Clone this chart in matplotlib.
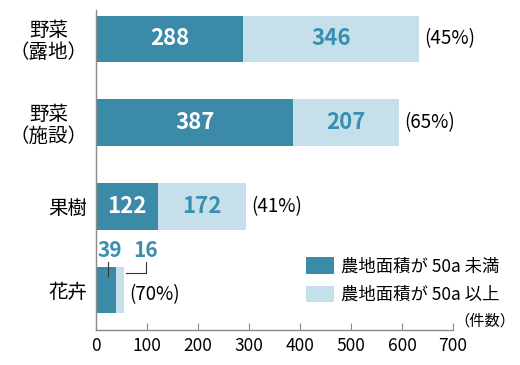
import matplotlib
matplotlib.use("Agg")
import matplotlib.pyplot as plt

plt.rcParams['font.family'] = ['Noto Sans CJK JP', 'DejaVu Sans']

categories = ["野菜\n（露地）", "野菜\n（施設）", "果樹", "花卉"]
under_50a = [288, 387, 122, 39]
over_50a = [346, 207, 172, 16]
pct_labels = ["(45%)", "(65%)", "(41%)", "(70%)"]
xticks = [0, 100, 200, 300, 400, 500, 600, 700]
legend_labels = ["農地面積が 50a 未満", "農地面積が 50a 以上"]

DARK = "#3a8aa8"
LIGHT = "#c5e0eb"
TEXT_BLUE = "#3a8fb0"
AXIS = "#8a8a8a"

fig = plt.figure(figsize=(5.2, 3.65), dpi=100)
ax = fig.add_axes([0.1846, 0.0959, 0.6865, 0.8767])

ys = list(range(len(categories)))
h = 0.56
ax.barh(ys, under_50a, height=h, color=DARK, label=legend_labels[0])
ax.barh(ys, over_50a, left=under_50a, height=h, color=LIGHT, label=legend_labels[1])

ax.set_xlim(0, 700)
ax.set_ylim(3.478, -0.346)

for i, (a, b) in enumerate(zip(under_50a, over_50a)):
    if a > 100:
        ax.text(a / 2, i, str(a), ha="center", va="center", color="white",
                fontsize=16, fontweight="bold")
        ax.text(a + b / 2, i, str(b), ha="center", va="center", color=TEXT_BLUE,
                fontsize=16, fontweight="bold")
        ax.text(a + b + 10, i, pct_labels[i], ha="left", va="center", fontsize=13.5)
    else:
        # small bar: values shown above with leader lines
        ax.text(28, i - 0.47, str(a), ha="center", va="center", color=TEXT_BLUE,
                fontsize=15, fontweight="bold")
        ax.text(98, i - 0.47, str(b), ha="center", va="center", color=TEXT_BLUE,
                fontsize=15, fontweight="bold")
        ax.plot([23, 23], [i - 0.34, i - 0.17], color="#333333", lw=0.8)
        ax.plot([98, 98, 58], [i - 0.33, i - 0.2, i - 0.2], color="#333333", lw=0.8)
        ax.text(a + b + 10, i + 0.06, pct_labels[i], ha="left", va="center", fontsize=13.5)

ax.set_yticks(ys)
ax.set_yticklabels(categories, fontsize=14, linespacing=1.05, multialignment="center")
ax.tick_params(axis="y", length=0, pad=6)
ax.set_xticks(xticks)
ax.tick_params(axis="x", direction="in", length=5, color=AXIS, labelsize=12.5, pad=5)

for s in ["top", "right"]:
    ax.spines[s].set_visible(False)
for s in ["left", "bottom"]:
    ax.spines[s].set_color(AXIS)
    ax.spines[s].set_linewidth(1)

ax.text(1.005, 0.0, "（件数）", transform=ax.transAxes, fontsize=11,
        ha="left", va="bottom")

ax.legend(loc="upper left", bbox_to_anchor=(0.575, 0.315), bbox_transform=fig.transFigure,
          frameon=False, fontsize=12.5, handlelength=1.6, handleheight=1.1,
          labelspacing=0.6, handletextpad=0.4, borderaxespad=0)

fig.savefig("out.png", dpi=100)
